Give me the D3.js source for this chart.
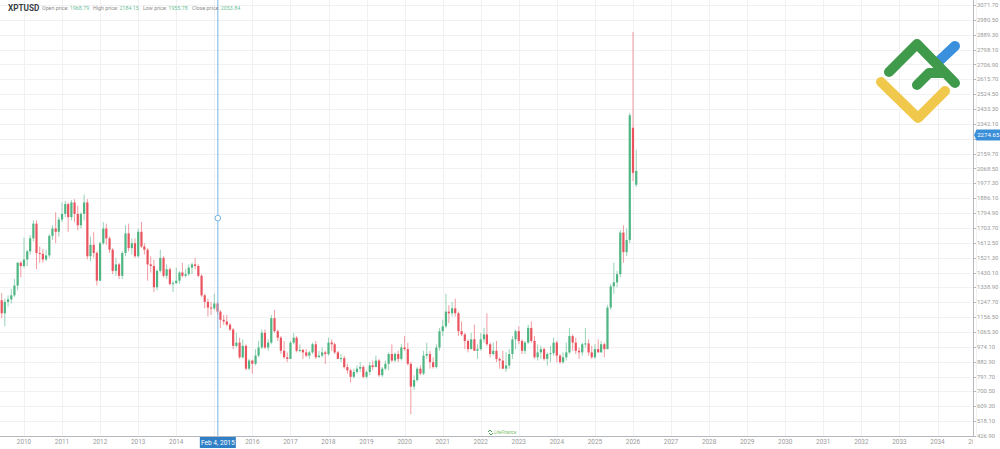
<!DOCTYPE html>
<html>
<head>
<meta charset="utf-8">
<script src="https://cdn.jsdelivr.net/npm/d3@7"></script>
<style>
  body { margin: 0; background: #fff; }
  svg { display: block; font-family: Roboto, "Open Sans", sans-serif; }
</style>
</head>
<body>
<svg id="chart" width="1000" height="449"></svg>
<script>
// monthly candles, first one is June 2009
var firstMonth = new Date(2009, 5, 1);

var openP = [
  1260,1180,1250,1265,1290,1350,1490,                              // 2009
  1470,1510,1560,1640,1730,1550,1545,1510,1535,1655,1700,1680,     // 2010
  1755,1790,1850,1770,1860,1790,1720,1790,1860,1530,1600,1550,     // 2011
  1380,1610,1700,1640,1570,1440,1480,1410,1550,1670,1580,1610,     // 2012
  1530,1680,1590,1570,1480,1470,1340,1440,1520,1410,1450,1360,     // 2013
  1365,1380,1430,1410,1420,1460,1480,1470,1410,1290,1250,1215,     // 2014
  1210,1240,1190,1140,1130,1110,1080,980,1000,910,980,840,         // 2015
  890,870,920,970,1060,970,1000,1150,1070,1030,950,910,            // 2016
  900,1000,1030,950,955,940,920,940,990,910,920,940,               // 2017
  930,1000,990,940,900,905,850,830,790,820,840,850,                // 2018
  790,820,860,850,890,800,840,870,930,890,930,900,                 // 2019
  970,960,870,730,770,840,810,920,930,880,850,970,                 // 2020
  1070,1100,1190,1180,1210,1180,1070,1050,1010,960,1020,950,       // 2021
  960,1020,1050,990,930,950,900,890,840,860,930,1020,              // 2022
  1070,1010,950,1000,1090,1010,910,940,960,900,930,935,            // 2023
  1000,920,880,910,940,1040,1000,950,940,990,995,940,              // 2024
  910,960,940,990,960,1215,1345,1370,1420,1675,1555,1630,          // 2025
  2318.3,1968.79                                                   // 2026
];
var highP = [
  1305,1270,1290,1330,1390,1495,1500,
  1645,1570,1660,1750,1750,1590,1575,1570,1665,1720,1800,1770,
  1860,1870,1860,1875,1880,1840,1800,1910,1880,1650,1680,1560,
  1620,1740,1730,1650,1580,1520,1490,1560,1720,1730,1640,1640,
  1700,1740,1610,1580,1530,1510,1450,1570,1530,1480,1460,1380,
  1460,1440,1490,1450,1480,1490,1520,1480,1420,1300,1270,1250,
  1300,1250,1200,1170,1170,1120,1090,1060,1030,1020,990,900,
  895,960,1010,1080,1080,1020,1170,1200,1080,1040,1010,940,
  1010,1060,1040,990,960,960,950,1000,1010,950,970,950,
  1030,1020,1000,950,930,920,870,840,840,860,880,860,
  830,880,890,920,900,850,890,940,990,940,950,990,
  1040,1000,880,800,850,860,950,1000,950,910,990,1090,
  1140,1300,1230,1250,1270,1190,1130,1060,1020,1060,1110,990,
  1060,1090,1180,1000,1000,1010,910,950,940,960,1040,1080,
  1100,1020,1010,1110,1130,1040,990,980,970,940,980,1030,
  1010,930,940,1000,1090,1050,1030,970,1000,1090,1020,980,
  990,1020,1010,1000,1230,1360,1490,1440,1690,1720,1700,2410,
  2906,2184.15
];
var lowP = [
  1150,1100,1220,1240,1280,1320,1400,
  1460,1470,1540,1620,1450,1490,1490,1500,1520,1630,1610,1650,
  1740,1770,1680,1750,1740,1690,1700,1750,1510,1500,1520,1350,
  1380,1600,1600,1550,1420,1410,1390,1390,1530,1560,1540,1520,
  1520,1580,1540,1380,1430,1310,1320,1430,1400,1390,1350,1310,
  1360,1360,1400,1400,1410,1420,1450,1400,1280,1210,1160,1170,
  1200,1170,1090,1110,1100,1070,960,970,900,900,830,830,
  810,860,910,960,960,950,990,1060,1010,930,900,880,
  900,990,940,940,900,910,900,930,900,910,910,870,
  920,950,930,900,880,840,810,755,780,810,820,780,
  780,800,830,850,790,790,830,830,880,880,880,890,
  950,860,560,710,760,800,800,900,840,840,840,950,
  1040,1090,1120,1160,1160,1040,1040,960,940,960,950,900,
  950,1000,980,910,920,880,840,840,820,840,900,960,
  990,930,930,990,1000,900,890,900,890,860,880,920,
  880,870,870,890,930,950,930,900,920,970,920,900,
  900,940,940,910,960,1200,1300,1340,1400,1490,1530,1610,
  1990,1955.78
];
var closeP = [
  1180,1250,1265,1290,1350,1490,1470,
  1510,1560,1640,1730,1550,1545,1510,1535,1655,1700,1680,1755,
  1790,1850,1770,1860,1790,1720,1790,1860,1530,1600,1550,1380,
  1610,1700,1640,1570,1440,1480,1410,1550,1670,1580,1610,1530,
  1680,1590,1570,1480,1470,1340,1440,1520,1410,1450,1360,1365,
  1380,1430,1410,1420,1460,1480,1470,1410,1290,1250,1215,1210,
  1240,1190,1140,1130,1110,1080,980,1000,910,980,840,890,
  870,920,970,1060,970,1000,1150,1070,1030,950,910,900,
  1000,1030,950,955,940,920,940,990,910,920,940,930,
  1000,990,940,900,905,850,830,790,820,840,850,790,
  820,860,850,890,800,840,870,930,890,930,900,970,
  960,870,730,770,840,810,920,930,880,850,970,1070,
  1100,1190,1180,1210,1180,1070,1050,1010,960,1020,950,960,
  1020,1050,990,930,950,900,890,840,860,930,1020,1070,
  1010,950,1000,1090,1010,910,940,960,900,930,935,1000,
  920,880,910,940,1040,1000,950,940,990,995,940,910,
  960,940,990,960,1215,1345,1370,1420,1675,1555,1630,2395,
  2042,2053.84
];

var yearTicks = d3.range(2010, 2036);
var priceTicks = d3.range(0, 30).map(function(k) { return 3071.7 - k * 91.2; });
var lastPrice = 2274.65;
var crossDate = new Date(2015, 1, 4);
var crossPrice = 1764;
var header = [
  ["Open price:", "1968.79"],
  ["High price:", "2184.15"],
  ["Low price:", "1955.78"],
  ["Close price:", "2053.84"]
];

var width = 1000, height = 449;
var plotRight = 973, plotBottom = 436;
var upColor = "#4fb583", downColor = "#e9545f";

var svg = d3.select("#chart");

var x = d3.scaleTime()
  .domain([new Date(2010, 0, 1), new Date(2026, 0, 1)])
  .range([24, 633]);
var y = d3.scaleLinear()
  .domain([426.9, 3071.7])
  .range([plotBottom, 5]);

svg.append("defs").append("clipPath").attr("id", "plotClip")
  .append("rect").attr("x", 0).attr("y", 0).attr("width", plotRight).attr("height", height);

// grid
var grid = svg.append("g");
grid.selectAll("line.h").data(priceTicks).enter().append("line")
  .attr("x1", 0).attr("x2", plotRight)
  .attr("y1", function(d) { return Math.round(y(d)) + 0.5; })
  .attr("y2", function(d) { return Math.round(y(d)) + 0.5; })
  .attr("stroke", "#f1f1f1");
grid.selectAll("line.v").data(yearTicks).enter().append("line")
  .attr("x1", function(d) { return Math.round(x(new Date(d, 0, 1))) + 0.5; })
  .attr("x2", function(d) { return Math.round(x(new Date(d, 0, 1))) + 0.5; })
  .attr("y1", 0).attr("y2", plotBottom)
  .attr("stroke", "#f1f1f1");

// logo
var logo = svg.append("g").attr("fill", "none").attr("stroke-linecap", "round").attr("stroke-linejoin", "round").attr("stroke-width", 10);
logo.append("path").attr("d", "M881,82 L918,118 L945,91").attr("stroke", "#f0c94c");
logo.append("path").attr("d", "M938,62 L955,46").attr("stroke", "#3a90dd");
logo.append("path").attr("d", "M889,72 L917,44 L955,83").attr("stroke", "#3f9a4b");
logo.append("path").attr("d", "M917,85 L929,73 L943,73").attr("stroke", "#3f9a4b");

// small watermark
var wm = svg.append("g").attr("transform", "translate(488,432)");
wm.append("path").attr("d", "M0,0 L2,-2 L4,0 M1,1 L3,3 L5,1").attr("fill", "none").attr("stroke", "#4a9d55").attr("stroke-width", 1);
wm.append("text").attr("x", 6).attr("y", 1.5).attr("font-size", 4.5).attr("font-style", "italic")
  .attr("fill", "#7cbf6a").text("LiteFinance");

// candles
var months = openP.map(function(d, i) { return d3.timeMonth.offset(firstMonth, i); });
var candles = svg.append("g").attr("clip-path", "url(#plotClip)")
  .selectAll("g").data(openP).enter().append("g");

candles.append("line")
  .attr("x1", function(d, i) { return x(months[i]); })
  .attr("x2", function(d, i) { return x(months[i]); })
  .attr("y1", function(d, i) { return y(highP[i]); })
  .attr("y2", function(d, i) { return y(lowP[i]); })
  .attr("stroke", function(d, i) { return closeP[i] >= d ? upColor : downColor; })
  .attr("stroke-opacity", 0.65)
  .attr("stroke-width", 0.9);

candles.append("rect")
  .attr("x", function(d, i) { return x(months[i]) - 1.1; })
  .attr("width", 2.2)
  .attr("y", function(d, i) { return y(Math.max(d, closeP[i])); })
  .attr("height", function(d, i) { return Math.max(1, Math.abs(y(d) - y(closeP[i]))); })
  .attr("fill", function(d, i) { return closeP[i] >= d ? upColor : downColor; });

// axes
var axisColor = "#b5b9be", textColor = "#9a9a9a";
svg.append("line").attr("x1", plotRight + 0.5).attr("x2", plotRight + 0.5).attr("y1", 0).attr("y2", plotBottom + 1)
  .attr("stroke", axisColor);
svg.append("line").attr("x1", 0).attr("x2", plotRight).attr("y1", plotBottom + 0.5).attr("y2", plotBottom + 0.5)
  .attr("stroke", axisColor);

// labels hidden behind the last price box are not drawn
var shownPrices = priceTicks.filter(function(d) { return Math.abs(y(d) - y(lastPrice)) > 7; });
var yAxis = svg.append("g");
yAxis.selectAll("line").data(priceTicks).enter().append("line")
  .attr("x1", plotRight).attr("x2", plotRight + 3)
  .attr("y1", function(d) { return Math.round(y(d)) + 0.5; })
  .attr("y2", function(d) { return Math.round(y(d)) + 0.5; })
  .attr("stroke", axisColor);
yAxis.selectAll("text").data(shownPrices).enter().append("text")
  .attr("x", plotRight + 4)
  .attr("y", function(d) { return y(d); })
  .attr("dy", "0.35em")
  .attr("font-size", 5.9)
  .attr("fill", textColor)
  .text(function(d) { return d.toFixed(2); });

var cx = x(crossDate);
var shownYears = yearTicks.filter(function(d) { return Math.abs(x(new Date(d, 0, 1)) - cx) > 18; });
var xAxis = svg.append("g").attr("clip-path", "url(#plotClip)");
xAxis.selectAll("text").data(shownYears).enter().append("text")
  .attr("x", function(d) { return x(new Date(d, 0, 1)); })
  .attr("y", 444)
  .attr("text-anchor", "middle")
  .attr("font-size", 6.4)
  .attr("fill", textColor)
  .text(function(d) { return d; });

// last price marker
var lp = svg.append("g").attr("transform", "translate(" + plotRight + "," + y(lastPrice) + ")");
lp.append("path").attr("d", "M1,0 L3.5,-5.5 L27,-5.5 L27,5.5 L3.5,5.5 Z").attr("fill", "#3b8fd8");
lp.append("text").attr("x", 4.2).attr("dy", "0.35em").attr("font-size", 6.1).attr("fill", "#fff").text(lastPrice.toFixed(2));

// crosshair
svg.append("line").attr("x1", cx).attr("x2", cx).attr("y1", 0).attr("y2", plotBottom)
  .attr("stroke", "#7db6e3").attr("stroke-width", 1);
svg.append("circle").attr("cx", cx).attr("cy", y(crossPrice)).attr("r", 2.8)
  .attr("fill", "#fff").attr("stroke", "#6aaadc").attr("stroke-width", 0.9);
svg.append("rect").attr("x", cx - 18).attr("y", plotBottom + 1).attr("width", 36).attr("height", 11)
  .attr("fill", "#2f80c6");
svg.append("text").attr("x", cx).attr("y", 444.5).attr("text-anchor", "middle")
  .attr("font-size", 6.6).attr("fill", "#fff").text(d3.timeFormat("%b %-d, %Y")(crossDate));

// header
svg.append("text").attr("x", 8).attr("y", 10.5).attr("font-size", 8.2).attr("font-weight", "bold")
  .attr("fill", "#3a3f45").text("XPTUSD");
var hx = [42, 93, 143, 192];
header.forEach(function(h, i) {
  var t = svg.append("text").attr("x", hx[i]).attr("y", 9.5).attr("font-size", 5.3);
  t.append("tspan").attr("fill", "#8c8c8c").text(h[0] + " ");
  t.append("tspan").attr("fill", "#6cc29a").text(h[1]);
});
</script>
</body>
</html>
